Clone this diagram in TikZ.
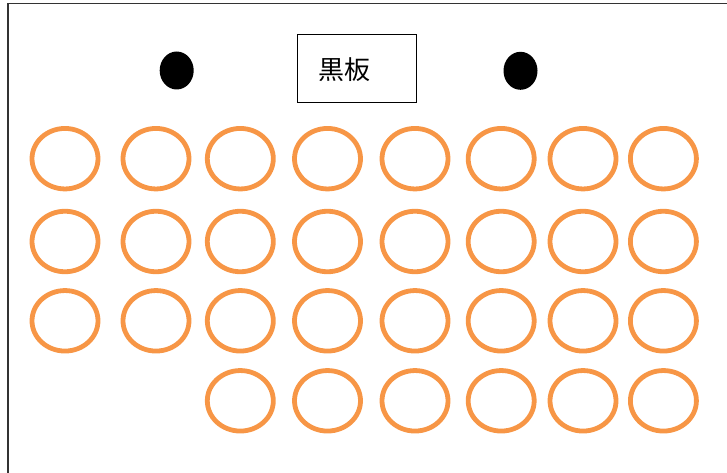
\documentclass[tikz,border=0pt]{standalone}
\usepackage{fontspec}
\newfontfamily\cjk{Noto Sans CJK JP}
\usetikzlibrary{shapes.geometric}
\definecolor{seatorange}{HTML}{F79646}
\tikzset{
  seat/.style={ellipse, draw=seatorange, line width=4.8pt, minimum width=66pt, minimum height=60.5pt, inner sep=0pt},
  post/.style={ellipse, fill=black, minimum width=34pt, minimum height=38pt, inner sep=0pt},
  boardbox/.style={draw=black, line width=1pt, minimum width=119pt, minimum height=68.4pt, inner sep=0pt}
}
\begin{document}
\begin{tikzpicture}[x=1pt,y=-1pt]
\useasboundingbox (0,0) rectangle (727,473);
\draw[line width=1.4pt, draw=black!80] (8,480) -- (8,3.6) -- (735,3.6);
\node[boardbox] (board) at (357.2,68.5) {};
\node[anchor=west, inner sep=0pt, font=\cjk\fontsize{26}{30}\selectfont] (boardtext) at (318.5,70) {黒板};
\node[post] (p1) at (176.7,70.5) {};
\node[post] (p2) at (520.5,70.8) {};
\foreach \c/\x in {1/65,2/156,3/240.3,4/327.5,5/415,6/501.2,7/583,8/663.4}{
  \foreach \r/\y in {1/158.7,2/241.5,3/320.8}{
    \node[seat] (s-\r-\c) at (\x,\y) {};
  }
}
\foreach \c/\x in {3/240.3,4/327.5,5/415,6/501.2,7/583,8/663.4}{
  \node[seat] (s-4-\c) at (\x,400.8) {};
}
\end{tikzpicture}
\end{document}
